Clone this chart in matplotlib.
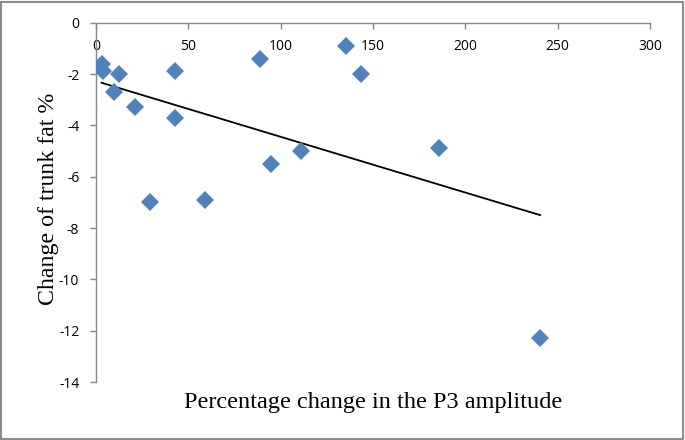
import numpy as np
import matplotlib
matplotlib.use("Agg")
import matplotlib.pyplot as plt
from matplotlib.patches import Rectangle

# values
p3_change = [3, 4, 12.5, 10, 21, 43, 43, 29, 59, 89, 95, 111, 135.5, 143.5, 186, 240.5]
trunk_fat_change = [-1.6, -1.9, -2.0, -2.7, -3.3, -1.9, -3.7, -7.0, -6.9,
                    -1.4, -5.5, -5.0, -0.9, -2.0, -4.9, -12.3]

x_ticks = [0, 50, 100, 150, 200, 250, 300]
y_ticks = [0, -2, -4, -6, -8, -10, -12, -14]

axis_grey = "#868686"
marker_blue = "#4F81BD"

plt.rcParams["axes.unicode_minus"] = False

fig = plt.figure(figsize=(6.85, 4.4), dpi=100)
ax = fig.add_axes([96 / 685, 1 - 382 / 440, 554 / 685, 359.3 / 440])

x = np.array(p3_change)
y = np.array(trunk_fat_change)
ax.plot(x, y, linestyle="none", marker="D", markersize=9.5,
        color=marker_blue, markeredgewidth=0, zorder=3)

# linear trendline over the data range
slope, intercept = np.polyfit(x, y, 1)
xs = np.array([x.min(), x.max()])
ax.plot(xs, slope * xs + intercept, color="black", linewidth=1.3, zorder=2)

ax.set_xlim(0, 300)
ax.set_ylim(-14, 0)
ax.set_xticks(x_ticks)
ax.set_yticks(y_ticks)

for side in ("top", "right"):
    ax.spines[side].set_visible(False)
ax.spines["bottom"].set_position(("data", 0))
for side in ("left", "bottom"):
    ax.spines[side].set_color(axis_grey)
    ax.spines[side].set_linewidth(1.0)

ax.tick_params(direction="out", length=4, width=1, color=axis_grey,
               labelsize=10, pad=8)
for lbl in ax.get_xticklabels() + ax.get_yticklabels():
    lbl.set_fontfamily("Open Sans")

fig.text(373 / 685, 1 - 402 / 440, "Percentage change in the P3 amplitude",
         family="Liberation Serif", fontsize=17.5, ha="center", va="center")
fig.text(49 / 685, 1 - 199 / 440, "Change of trunk fat %",
         family="Liberation Serif", fontsize=17.2, ha="center", va="center",
         rotation=90)

# grey frame around the whole chart
fig.patches.append(Rectangle((0.002, 0.003), 0.995, 0.993, transform=fig.transFigure,
                             fill=False, edgecolor="#8c8c8c", linewidth=1.5))

fig.savefig("out.png", dpi=100)
